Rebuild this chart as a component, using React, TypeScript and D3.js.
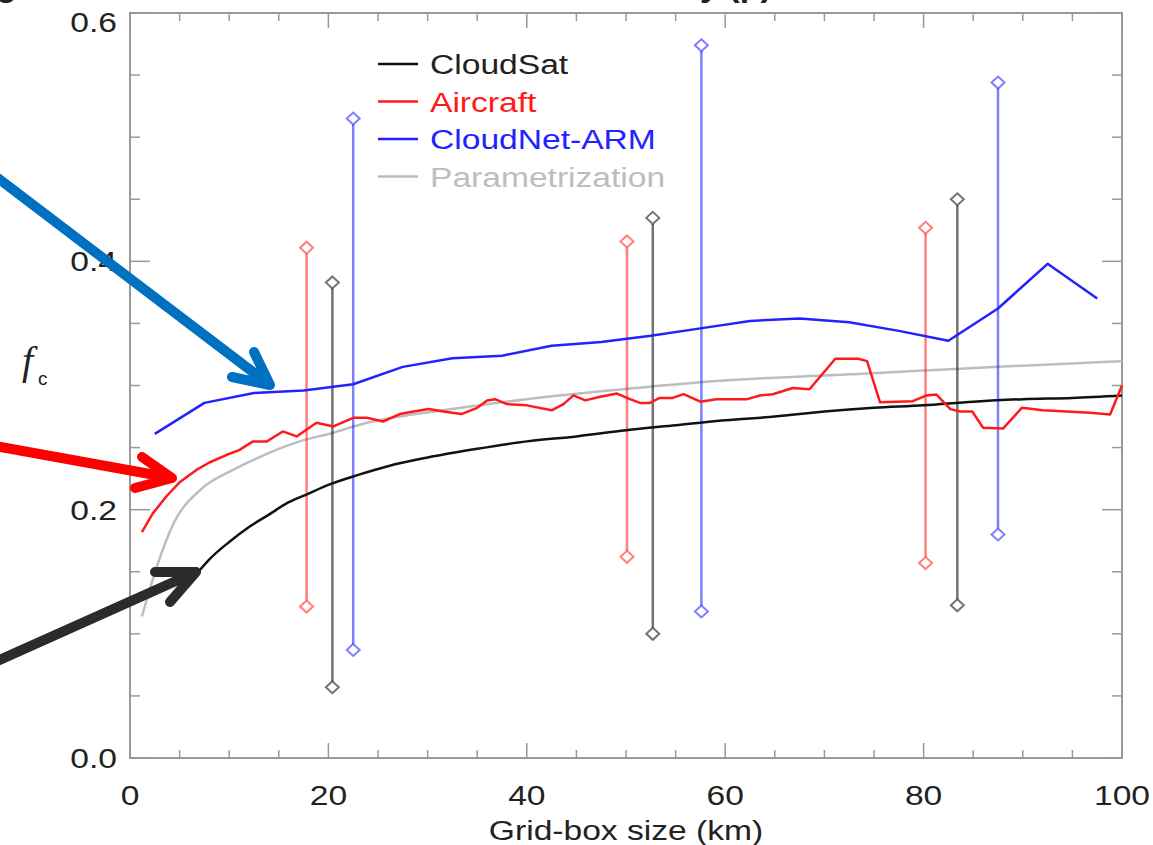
import React from "react";
import * as d3 from "d3";

const cloudSatX = [7, 8, 10, 12, 14, 16, 18, 20, 23, 26, 30, 35, 40, 45, 50, 55, 60, 65, 70, 75, 80, 85, 90, 95, 100];
const cloudSatY = [0.151, 0.16, 0.174, 0.186, 0.196, 0.206, 0.213, 0.22, 0.228, 0.235, 0.242, 0.249, 0.255, 0.259, 0.264, 0.268, 0.272, 0.275, 0.279, 0.282, 0.284, 0.287, 0.289, 0.290, 0.292];

const aircraftX = [1.2, 2.3, 3.7, 5.0, 6.7, 8.0, 9.7, 11.0, 12.4, 13.8, 15.4, 16.8, 18.8, 20.5, 22.5, 23.9, 25.5, 27.2, 28.6, 30.1, 31.6, 33.4, 35, 36, 36.8, 38, 40, 42.5, 43.7, 44.7, 45.9, 47.4, 49.1, 50.4, 51.4, 52.4, 53.4, 54.7, 55.8, 57.5, 59.1, 62.2, 63.5, 64.8, 66.8, 68.5, 71.1, 73.4, 74.3, 75.6, 78.9, 80.3, 81.3, 82.7, 83.7, 84.9, 86, 88, 89.9, 92, 94.4, 96.8, 98.8, 100];
const aircraftY = [0.182, 0.197, 0.211, 0.222, 0.232, 0.238, 0.244, 0.248, 0.255, 0.255, 0.263, 0.259, 0.27, 0.267, 0.274, 0.274, 0.271, 0.277, 0.279, 0.281, 0.279, 0.277, 0.282, 0.288, 0.289, 0.285, 0.284, 0.28, 0.285, 0.292, 0.288, 0.291, 0.2935, 0.289, 0.286, 0.286, 0.29, 0.29, 0.293, 0.287, 0.289, 0.289, 0.292, 0.293, 0.298, 0.297, 0.3215, 0.3215, 0.3196, 0.2866, 0.2874, 0.292, 0.2927, 0.281, 0.279, 0.279, 0.266, 0.2653, 0.282, 0.28, 0.279, 0.278, 0.2766, 0.3];

const cloudNetX = [2.5, 7.5, 12.5, 17.5, 22.5, 27.5, 32.5, 37.5, 42.5, 47.5, 52.5, 57.5, 62.5, 67.5, 72.5, 77.5, 82.5, 87.5, 92.5, 97.5];
const cloudNetY = [0.261, 0.286, 0.294, 0.296, 0.301, 0.315, 0.322, 0.324, 0.332, 0.335, 0.34, 0.346, 0.352, 0.354, 0.351, 0.344, 0.336, 0.362, 0.398, 0.37];

const paramX = [1.2, 2.7, 4.4, 7.1, 10.4, 13.8, 17.1, 20.5, 23.9, 27.2, 30.6, 40, 52.4, 57.5, 72.6, 80, 90, 100];
const paramY = [0.114, 0.154, 0.189, 0.216, 0.232, 0.245, 0.255, 0.262, 0.27, 0.275, 0.279, 0.289, 0.299, 0.3027, 0.309, 0.312, 0.316, 0.3196];

// error bars: series index 0 CloudSat, 1 Aircraft, 2 CloudNet
const barX = [17.8, 20.4, 22.5, 50.1, 52.7, 57.6, 80.2, 83.4, 87.5];
const barSeries = [1, 0, 2, 1, 0, 2, 1, 0, 2];
const barTop = [0.411, 0.383, 0.515, 0.416, 0.435, 0.574, 0.427, 0.45, 0.544];
const barBottom = [0.122, 0.057, 0.087, 0.162, 0.1, 0.118, 0.157, 0.123, 0.18];

const seriesNames = ["CloudSat", "Aircraft", "CloudNet-ARM", "Parametrization"];
const seriesColors = ["#111111", "#ff1a1a", "#2222ff", "#bdbdbd"];
const barColors = ["rgba(0,0,0,0.55)", "rgba(255,0,0,0.5)", "rgba(0,0,255,0.5)"];

const xTicks = [0, 20, 40, 60, 80, 100];
const yTicks = [0.0, 0.2, 0.4, 0.6];

const W = 1153, H = 845;
const L = 130, R = 1122, T = 13, B = 758;
const FONT = "'Liberation Sans', Arial, Helvetica, sans-serif";
const SX = 1.2;

export default function App() {
  const x = d3.scaleLinear().domain([0, 100]).range([L, R]);
  const y = d3.scaleLinear().domain([0, 0.6]).range([B, T]);

  const lineLinear = d3.line<[number, number]>().x(d => x(d[0])).y(d => y(d[1]));
  const lineSmooth = d3.line<[number, number]>().x(d => x(d[0])).y(d => y(d[1])).curve(d3.curveMonotoneX);

  const zip = (a: number[], b: number[]) => a.map((v, i) => [v, b[i]] as [number, number]);

  const xMinor = d3.range(0, 101, 5);
  const yMinor = d3.range(0, 0.6001, 0.05);

  const txt = (s: string, px: number, py: number, anchor: string, color = "#222", size = 28) => (
    <text transform={`translate(${px},${py}) scale(${SX},1)`} textAnchor={anchor} fill={color}
      fontFamily={FONT} fontSize={size}>{s}</text>
  );

  const diamond = (cx: number, cy: number) =>
    `M${cx},${cy - 6}L${cx + 6.5},${cy}L${cx},${cy + 6}L${cx - 6.5},${cy}Z`;

  return (
    <svg width={W} height={H} style={{ position: "absolute", left: 0, top: 0, background: "#fff" }}>
      {/* clipped title remnant */}
      <text x={-4} y={-4} fontFamily={FONT} fontSize={34} fontWeight="bold" fill="#222">g</text>
      <text x={700} y={-4} fontFamily={FONT} fontSize={34} fontWeight="bold" fill="#222">y (p)</text>

      {/* frame */}
      <rect x={L} y={T} width={R - L} height={B - T} fill="none" stroke="#999" strokeWidth={2} />

      {/* ticks */}
      {xMinor.map(v => {
        const major = v % 20 === 0;
        const len = major ? 15 : 8;
        return (
          <g key={"xt" + v} stroke="#999" strokeWidth={1.5}>
            <line x1={x(v)} x2={x(v)} y1={B} y2={B - len} />
            <line x1={x(v)} x2={x(v)} y1={T} y2={T + len} />
          </g>
        );
      })}
      {yMinor.map((v, i) => {
        const major = i % 4 === 0;
        const len = major ? 20 : 10;
        return (
          <g key={"yt" + i} stroke="#999" strokeWidth={1.5}>
            <line x1={L} x2={L + len} y1={y(v)} y2={y(v)} />
            <line x1={R} x2={R - len} y1={y(v)} y2={y(v)} />
          </g>
        );
      })}

      {/* tick labels */}
      {xTicks.map(v => <g key={"xl" + v}>{txt(String(v), x(v), 805, "middle")}</g>)}
      {yTicks.map(v => <g key={"yl" + v}>{txt(v.toFixed(1), 117, Math.max(y(v) + 10, 32), "end")}</g>)}
      {txt("Grid-box size (km)", (L + R) / 2, 840, "middle")}
      <text x={22} y={374} fontFamily="'Liberation Serif', 'DejaVu Serif', serif" fontStyle="italic" fontSize={40} fill="#222">f</text>
      <text x={38} y={385} fontFamily={FONT} fontSize={19} fill="#222">c</text>

      {/* parametrization */}
      <path d={lineSmooth(zip(paramX, paramY)) || ""} fill="none" stroke={seriesColors[3]} strokeWidth={2.5} />

      {/* error bars */}
      {barX.map((bx, i) => {
        const c = barColors[barSeries[i]];
        return (
          <g key={"eb" + i}>
            <line x1={x(bx)} x2={x(bx)} y1={y(barTop[i]) + 6} y2={y(barBottom[i]) - 6} stroke={c} strokeWidth={2.5} />
            <path d={diamond(x(bx), y(barTop[i]))} fill="none" stroke={c} strokeWidth={2} />
            <path d={diamond(x(bx), y(barBottom[i]))} fill="none" stroke={c} strokeWidth={2} />
          </g>
        );
      })}

      {/* data lines */}
      <path d={lineSmooth(zip(cloudSatX, cloudSatY)) || ""} fill="none" stroke={seriesColors[0]} strokeWidth={2.5} />
      <path d={lineLinear(zip(aircraftX, aircraftY)) || ""} fill="none" stroke={seriesColors[1]} strokeWidth={2.5} strokeLinejoin="round" />
      <path d={lineLinear(zip(cloudNetX, cloudNetY)) || ""} fill="none" stroke={seriesColors[2]} strokeWidth={2.5} strokeLinejoin="round" />

      {/* legend */}
      {seriesNames.map((n, i) => (
        <g key={"lg" + i}>
          <line x1={378} x2={418} y1={64 + i * 37.5} y2={64 + i * 37.5} stroke={seriesColors[i]} strokeWidth={2.5} />
          {txt(n, 430, 74 + i * 37.5, "start", seriesColors[i] === "#111111" ? "#222" : seriesColors[i])}
        </g>
      ))}

      {/* annotation arrows */}
      <g fill="none" strokeLinecap="round" strokeLinejoin="round">
        <path d="M-5,176L270,385M232,377L270,385L254,352" stroke="#0070c0" strokeWidth={10} />
        <path d="M-5,446L172,478M142,457L172,478L135,488" stroke="#ff0000" strokeWidth={10} />
        <path d="M-5,662L196,572M155,572L196,572L170,602" stroke="#2b2b2b" strokeWidth={10} />
      </g>
    </svg>
  );
}
